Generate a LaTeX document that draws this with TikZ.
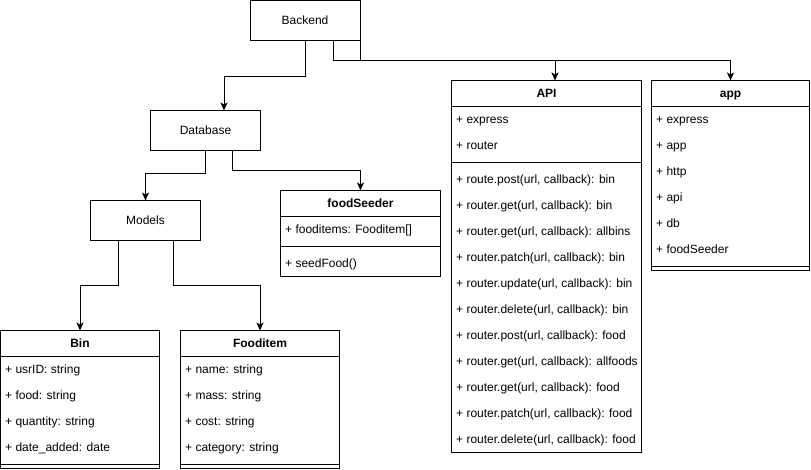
\documentclass[tikz,border=0pt]{standalone}
\usepackage{fontspec}
\setmainfont{Liberation Sans}
\usetikzlibrary{arrows.meta}
\tikzset{
  cls/.style={draw,line width=1pt,anchor=north west,inner sep=0pt,outer sep=0pt},
  ttl/.style={inner sep=0pt,text height=8.6pt,text depth=0pt,font=\fontsize{12}{14}\selectfont\bfseries},
  pkg/.style={draw,line width=1pt,minimum width=110pt,minimum height=40pt,inner sep=0pt,outer sep=0pt,font=\fontsize{12}{14}\selectfont},
  fld/.style={anchor=west,inner sep=0pt,text height=8.6pt,text depth=0pt,font=\fontsize{12}{14}\selectfont},
  dep/.style={line width=1pt,-{Stealth[length=8pt,width=7pt,inset=2pt]}},
  div/.style={line width=1pt}
}
\newcommand{\fld}[4]{\node[fld] (#1) at (#2,#3) {#4};}
\newcommand{\hdiv}[3]{\draw[div] (#1,#3) -- (#2,#3);}

\begin{document}
\begin{tikzpicture}[x=1pt,y=-1pt]
\useasboundingbox (0,0) rectangle (811,469);
\node[pkg] (backend) at (305,20.5) {Backend};
\node[pkg] (database) at (205.5,130.5) {Database};
\node[pkg] (models) at (145.5,220.5) {Models};

\node[cls,minimum width=190pt,minimum height=371.5pt] (api) at (451.5,80.5) {};
\node[ttl] (apiT) at (546.5,93.5) {API};
\hdiv{451.5}{641.5}{106.5} \hdiv{451.5}{641.5}{162.5}
\fld{a1}{456}{119.5}{+ express}
\fld{a2}{456}{145.5}{+ router}
\fld{m1}{456}{179.5}{+ route.post(url, callback): bin}
\fld{m2}{456}{205.5}{+ router.get(url, callback): bin}
\fld{m3}{456}{231.5}{+ router.get(url, callback): allbins}
\fld{m4}{456}{257.5}{+ router.patch(url, callback): bin}
\fld{m5}{456}{283.5}{+ router.update(url, callback): bin}
\fld{m6}{456}{309.5}{+ router.delete(url, callback): bin}
\fld{m7}{456}{335.5}{+ router.post(url, callback): food}
\fld{m8}{456}{361.5}{+ router.get(url, callback): allfoods}
\fld{m9}{456}{387.5}{+ router.get(url, callback): food}
\fld{m10}{456}{413.5}{+ router.patch(url, callback): food}
\fld{m11}{456}{439.5}{+ router.delete(url, callback): food}

\node[cls,minimum width=158pt,minimum height=189.5pt] (app) at (651.5,80.5) {};
\node[ttl] (appT) at (730.5,93.5) {app};
\hdiv{651.5}{809.5}{106.5} \hdiv{651.5}{809.5}{266}
\fld{p1}{656}{119.5}{+ express}
\fld{p2}{656}{145.5}{+ app}
\fld{p3}{656}{171.5}{+ http}
\fld{p4}{656}{197.5}{+ api}
\fld{p5}{656}{223.5}{+ db}
\fld{p6}{656}{249.5}{+ foodSeeder}

\node[cls,minimum width=160pt,minimum height=85.5pt] (seeder) at (280.5,190.5) {};
\node[ttl] (seederT) at (360.5,203.5) {foodSeeder};
\hdiv{280.5}{440.5}{216.5} \hdiv{280.5}{440.5}{246.5}
\fld{s1}{285}{229.5}{+ fooditems: Fooditem[]}
\fld{s2}{285}{263.5}{+ seedFood()}

\node[cls,minimum width=159pt,minimum height=137.5pt] (bin) at (0.5,330.5) {};
\node[ttl] (binT) at (80,343.5) {Bin};
\hdiv{0.5}{159.5}{356.5} \hdiv{0.5}{159.5}{464}
\fld{b1}{5}{369.5}{+ usrID: string}
\fld{b2}{5}{395.5}{+ food: string}
\fld{b3}{5}{421.5}{+ quantity: string}
\fld{b4}{5}{447.5}{+ date\_added: date}

\node[cls,minimum width=159pt,minimum height=137.5pt] (food) at (180.5,330.5) {};
\node[ttl] (foodT) at (260,343.5) {Fooditem};
\hdiv{180.5}{339.5}{356.5} \hdiv{180.5}{339.5}{464}
\fld{f1}{185}{369.5}{+ name: string}
\fld{f2}{185}{395.5}{+ mass: string}
\fld{f3}{185}{421.5}{+ cost: string}
\fld{f4}{185}{447.5}{+ category: string}

\draw[dep] (backend.south) -- ++(0,36) -| ([xshift=18.5pt]database.north);
\draw[dep] ([xshift=28pt]backend.south) -- ++(0,20) -| ([xshift=8.5pt]api.north);
\draw[dep] (backend.south east) -- ++(0,20) -| (app.north);
\draw[dep] (database.south) -- ++(0,23) -| (models.north);
\draw[dep] ([xshift=27pt]database.south) -- ++(0,20) -| (seeder.north);
\draw[dep] ([xshift=-27pt]models.south) -- ++(0,45) -| (bin.north);
\draw[dep] ([xshift=28pt]models.south) -- ++(0,45) -| (food.north);
\end{tikzpicture}
\end{document}
